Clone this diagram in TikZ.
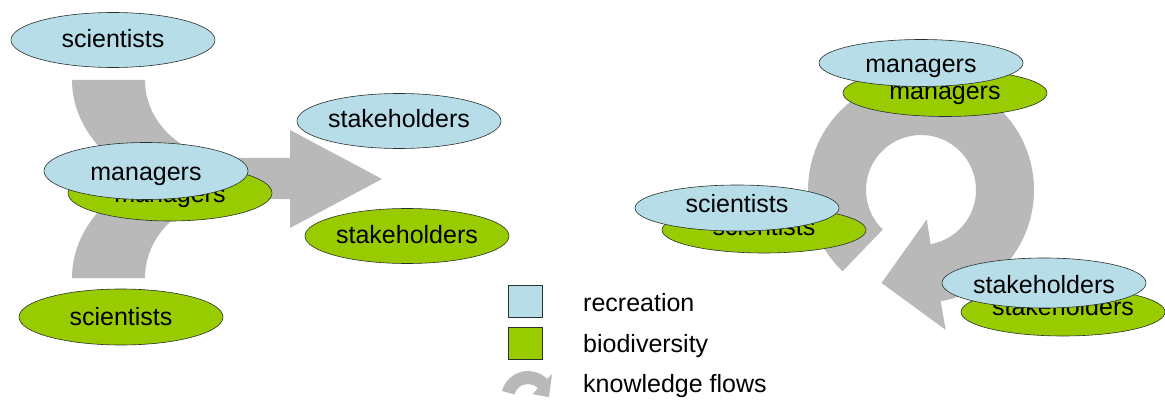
\documentclass[tikz,border=0pt]{standalone}
\usepackage{fontspec}
\setmainfont{Liberation Sans}
\usepackage{tikz}
\usetikzlibrary{shapes.geometric}
\usepackage{xcolor}
\definecolor{recblue}{RGB}{183,221,232}
\definecolor{biogreen}{RGB}{153,204,0}
\definecolor{flowgray}{RGB}{185,185,185}
\definecolor{rimline}{RGB}{40,50,45}

\begin{document}
\begin{tikzpicture}[x=1pt,y=-1pt,
	actor/.style={ellipse, draw=rimline, line width=0.6pt, inner sep=0pt, minimum width=204pt, text height=18pt, text depth=0pt, font=\fontsize{25}{30}\selectfont},
	rec/.style={actor, fill=recblue},
	bio/.style={actor, fill=biogreen},
	legbox/.style={draw=rimline, line width=0.8pt, minimum width=34pt, minimum height=32pt, inner sep=0pt},
	legtext/.style={anchor=base west, inner sep=0pt, font=\fontsize{25}{30}\selectfont}]
\useasboundingbox (0,0) rectangle (1165,401);

% converging flows
\fill[flowgray] (72,80) -- (145,80) arc[start angle=180, end angle=90, x radius=85, y radius=78] -- (290,158) -- (290,130) -- (382,179) -- (290,228) -- (290,199) -- (230,199) arc[start angle=90, end angle=180, x radius=158, y radius=119] -- cycle;
\fill[flowgray] (72,278) -- (145,278) arc[start angle=180, end angle=270, x radius=85, y radius=79] -- (230,158) arc[start angle=270, end angle=180, x radius=158, y radius=120] -- cycle;

% cycle of flows
\begin{scope}[shift={(921,190)}]
	\fill[flowgray] (134:113) arc[start angle=134, end angle=440, radius=113] -- (80:142) -- (113:101) -- (79:30) -- (80:55) arc[start angle=440, end angle=134, radius=55] -- cycle;
\end{scope}

\node[bio, minimum height=56pt, text depth=2pt] (sciB) at (121,317) {scientists};
\node[rec, minimum height=55pt, text depth=2pt] (sciR) at (113,40) {scientists};
\node[bio, minimum height=56pt] (manB) at (170,193) {managers};
\node[rec, minimum height=57pt] (manR) at (146,171) {managers};
\node[rec, minimum height=55pt, text depth=4pt] (staR) at (399,121) {stakeholders};
\node[bio, minimum height=55pt, text depth=4pt] (staB) at (407,236) {stakeholders};

\node[bio, minimum height=47pt, text depth=4pt] (manB2) at (945,93) {managers};
\node[rec, minimum height=47pt, text height=20pt] (manR2) at (921,63) {managers};
\node[bio, minimum height=46pt, text depth=8pt] (sciB2) at (764,230) {scientists};
\node[rec, minimum height=46pt, text depth=10pt] (sciR2) at (737,208) {scientists};
\node[bio, minimum height=48pt, text depth=12pt] (staB2) at (1063,312) {stakeholders};
\node[rec, minimum height=50pt, text height=20pt] (staR2) at (1044,283) {stakeholders};

% legend
\node[legbox, fill=recblue] (keyrec) at (525,301) {};
\node[legbox, fill=biogreen] (keybio) at (525,343) {};
\begin{scope}[shift={(528,398)}]
	\fill[flowgray] (195:27) arc[start angle=195, end angle=315, radius=27] -- (315:34) -- (358:21) -- (320:6) -- (315:14) arc[start angle=315, end angle=195, radius=14] -- cycle;
\end{scope}
\node[legtext] (txtrec) at (583,311) {recreation};
\node[legtext] (txtbio) at (583,352) {biodiversity};
\node[legtext] (txtflow) at (583,392) {knowledge flows};
\end{tikzpicture}
\end{document}
